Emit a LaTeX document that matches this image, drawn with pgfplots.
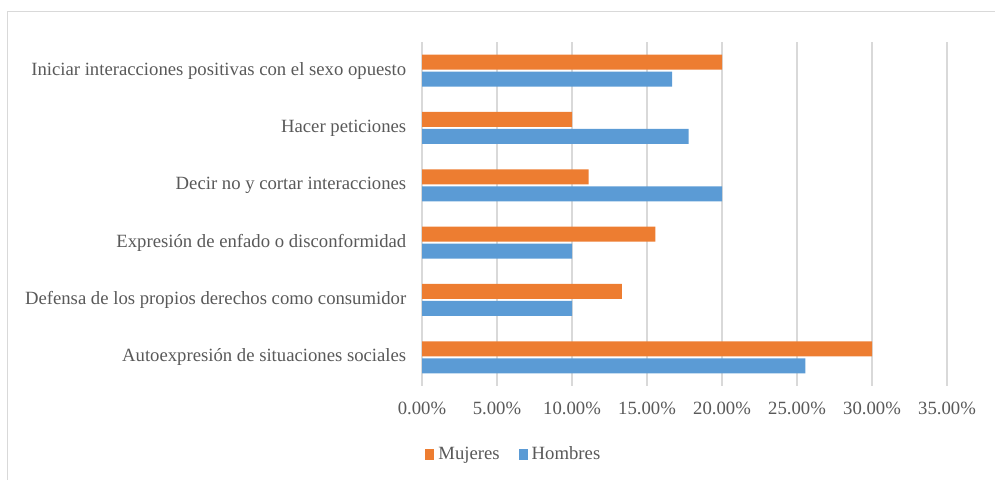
\documentclass[border=0pt]{standalone}
\usepackage{pgfplots}
\pgfplotsset{compat=1.18}
\usepackage{fontspec}
\setmainfont{Liberation Serif}

\definecolor{mujeres}{HTML}{ED7D31}
\definecolor{hombres}{HTML}{5B9BD5}
\definecolor{gridc}{HTML}{D9D9D9}
\definecolor{txt}{HTML}{595959}

\begin{document}
\begin{tikzpicture}[x=1bp,y=1bp]
\useasboundingbox (0,0) rectangle (995,480);
\draw[gridc, line width=1bp] (7,-20) -- (7,468) -- (1010,468);
\begin{axis}[
    at={(422bp,94bp)}, anchor=south west,
    scale only axis,
    width=525bp, height=344bp,
    xbar, bar width=15bp,
    xmin=0, xmax=35,
    ymin=-0.5, ymax=5.5,
    xtick={0,5,...,35},
    xticklabels={0.00\%,5.00\%,10.00\%,15.00\%,20.00\%,25.00\%,30.00\%,35.00\%},
    ytick={0,...,5},
    yticklabels={Autoexpresión de situaciones sociales,
                 Defensa de los propios derechos como consumidor,
                 Expresión de enfado o disconformidad,
                 Decir no y cortar interacciones,
                 Hacer peticiones,
                 Iniciar interacciones positivas con el sexo opuesto},
    xmajorgrids, grid style={gridc, line width=1.2bp},
    axis line style={draw=none},
    tick style={draw=none},
    tick label style={font=\fontsize{18.7bp}{22bp}\selectfont, text=txt},
    xticklabel style={anchor=north, yshift=-13bp},
    yticklabel style={anchor=east, xshift=-8bp},
    legend style={at={(0.175,-0.198)}, anchor=center, draw=none,
        font=\fontsize{18.7bp}{22bp}\selectfont, text=txt,
        legend columns=2,
        /tikz/every odd column/.append style={column sep=2bp},
        /tikz/every even column/.append style={column sep=17bp}},
    legend image code/.code={\fill[#1] (0bp,-5.5bp) rectangle (9bp,5.5bp);},
    reverse legend,
]
\addplot[fill=hombres, draw=none] coordinates {
    (25.56,0) (10,1) (10,2) (20,3) (17.78,4) (16.67,5)
};
\addplot[fill=mujeres, draw=none] coordinates {
    (30,0) (13.33,1) (15.56,2) (11.11,3) (10,4) (20,5)
};
\legend{Hombres, Mujeres}
\end{axis}
\end{tikzpicture}
\end{document}
